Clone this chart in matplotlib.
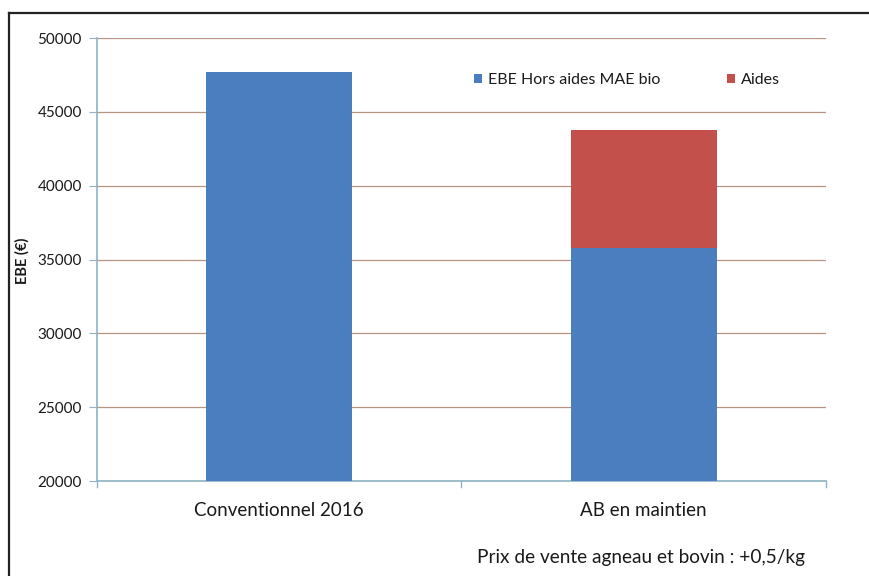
import matplotlib.pyplot as plt
import numpy as np
from matplotlib.lines import Line2D

categories = ["Conventionnel 2016", "AB en maintien"]
ebe_hors_aides = [47700, 35800]
aides = [0, 8000]
series_labels = ["EBE Hors aides MAE bio", "Aides"]
y_ticks = [20000, 25000, 30000, 35000, 40000, 45000, 50000]
note = "Prix de vente agneau et bovin : +0,5/kg"

plt.rcParams["font.family"] = ["Lato", "DejaVu Sans"]
plt.rcParams["text.color"] = "#1a1a1a"
plt.rcParams["xtick.color"] = "#1a1a1a"
plt.rcParams["ytick.color"] = "#1a1a1a"

BLUE = "#4a7ebf"
RED = "#c3504b"
GRID = "#b89484"
AXIS = "#8fb2c4"

fig = plt.figure(figsize=(8.69, 5.76), dpi=100)
ax = fig.add_axes([0.1116, 0.1649, 0.8389, 0.7691])

x = np.arange(len(categories))
width = 0.4
ax.bar(x, ebe_hors_aides, width, color=BLUE, label=series_labels[0], zorder=3)
ax.bar(x, aides, width, bottom=ebe_hors_aides, color=RED, label=series_labels[1], zorder=3)

ax.set_xlim(-0.5, 1.5)
ax.set_ylim(20000, 50000)
ax.set_yticks(y_ticks)
ax.set_yticklabels([str(v) for v in y_ticks], fontsize=11)
ax.set_xticks(x)
ax.set_xticklabels(categories, fontsize=13.5)
ax.tick_params(axis="x", length=0, pad=15)
ax.tick_params(axis="y", length=6, color=AXIS, pad=5)

# small ticks between categories on the x axis
for xt in [-0.5, 0.5, 1.5]:
    ax.plot([xt, xt], [20000, 19600], color=AXIS, lw=1, clip_on=False, zorder=4)

ax.grid(axis="y", color=GRID, lw=0.9, zorder=0)
for s in ["top", "right"]:
    ax.spines[s].set_visible(False)
for s in ["left", "bottom"]:
    ax.spines[s].set_color(AXIS)
    ax.spines[s].set_linewidth(1.2)

fig.text(22 / 869, 1 - 261 / 576, "EBE (€)", rotation=90, ha="center", va="center",
         fontsize=10.5, fontweight="bold")

ax.legend(loc="center left", bbox_to_anchor=(0.497, 0.905), ncol=2, frameon=False,
          fontsize=11.5, handlelength=0.55, handleheight=0.55, handletextpad=0.35,
          columnspacing=4.15)

fig.text(641 / 869, 1 - 557 / 576, note, ha="center", va="center", fontsize=13.7)

# outer frame (left and top edge visible)
fig.add_artist(Line2D([9 / 869, 9 / 869], [0, 1 - 13 / 576], transform=fig.transFigure,
                      color="#222222", lw=1.6))
fig.add_artist(Line2D([9 / 869, 1], [1 - 13 / 576, 1 - 13 / 576], transform=fig.transFigure,
                      color="#222222", lw=1.6))

fig.savefig("out.png", dpi=100)
